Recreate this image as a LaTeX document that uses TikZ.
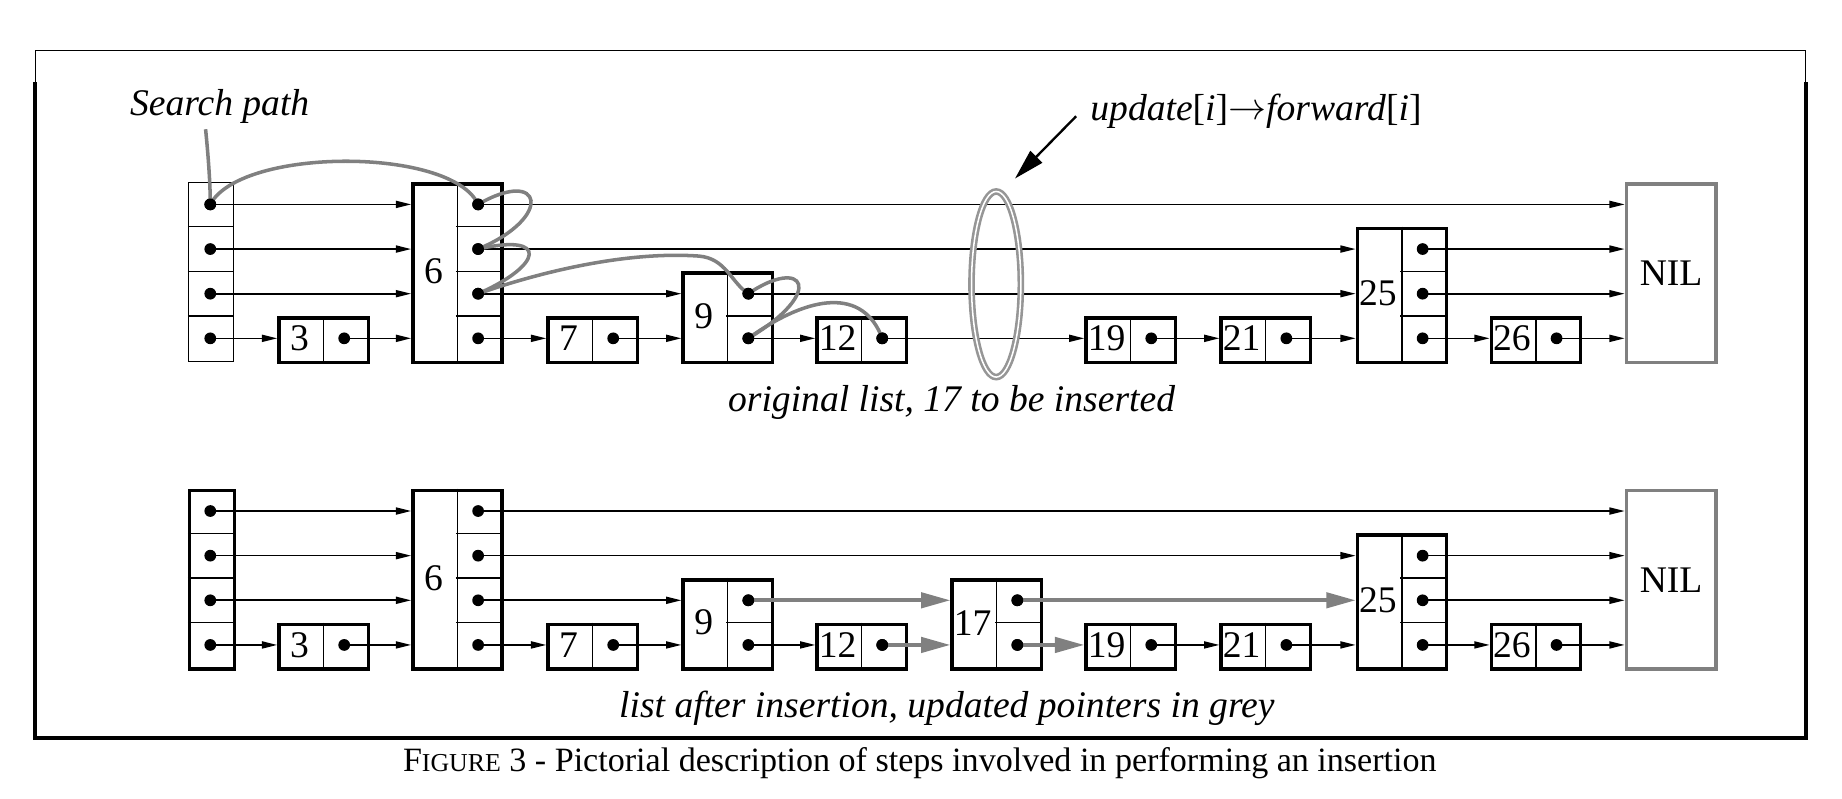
\documentclass[tikz,border=0pt]{standalone}
\usepackage{fontspec}
\setmainfont{Liberation Serif}
\usetikzlibrary{arrows.meta,shapes.geometric}
\definecolor{ptgray}{RGB}{128,128,128}
\definecolor{ringgray}{RGB}{150,150,150}
\tikzset{
  box/.style={draw, line width=3pt, inner sep=0pt, anchor=north west},
  thinbox/.style={draw, line width=1.1pt, inner sep=0pt, anchor=north west},
  nilbox/.style={draw=ptgray, line width=3pt, inner sep=0pt, anchor=north west,
    minimum width=76pt, minimum height=152pt, font=\fontsize{32}{38}\selectfont},
  grid/.style={line width=1.1pt},
  ptr/.style={line width=1.4pt, -{Triangle[length=13pt,width=6pt]}},
  gptr/.style={draw=ptgray, line width=3.2pt, -{Triangle[length=25pt,width=13pt]}},
  annarrow/.style={line width=2pt, -{Triangle[length=26pt,width=14pt]}},
  dot/.style={circle, fill, inner sep=0pt, minimum size=10pt},
  lab/.style={font=\fontsize{32}{38}\selectfont},
  ital/.style={font=\fontsize{32}{38}\selectfont\itshape, inner sep=0pt},
  search/.style={draw=ptgray, line width=3pt},
  ring/.style={ellipse, draw=ringgray, line width=2.2pt, double=white, double distance=1.3pt,
    inner sep=0pt, minimum width=42pt, minimum height=158pt},
}
% #1 name, #2 x, #3 levels, #4 label, #5 bottom y
\newcommand\listnode[5]{%
  \pgfmathsetmacro\ltop{#5-38*#3}%
  \pgfmathsetmacro\lhgt{38*#3}%
  \node[box, minimum width=76pt, minimum height=\lhgt pt] (#1) at (#2,\ltop) {};
  \draw[grid] (#1.north) -- (#1.south);
  \ifnum#3>1
    \foreach \k in {2,...,#3} \draw[grid] (#2+38,#5-38*\k+38) -- (#2+76,#5-38*\k+38);
  \fi
  \node[lab] (#1-key) at (#2+19,#5-19*#3) {#4};
  \foreach \k in {1,...,#3} \node[dot] (#1-\k) at (#2+57,#5+19-38*\k) {};
}
% #1 name, #2 bottom y, #3 style
\newcommand\headcol[3]{%
  \node[#3, minimum width=38pt, minimum height=152pt] (#1) at (160,#2-152) {};
  \foreach \k in {1,2,3} \draw[grid] (160,#2-38*\k) -- (198,#2-38*\k);
  \foreach \k in {1,...,4} \node[dot] (#1-\k) at (179,#2+19-38*\k) {};
}
\begin{document}
\begin{tikzpicture}[x=1pt,y=-1pt]
\useasboundingbox (0,0) rectangle (1568,680);
% frame
\draw[line width=1.2pt] (30,43) -- (1537,43);
\draw[line width=1pt] (30,43) -- (30,70) (1537,43) -- (1537,70);
\draw[line width=3.4pt] (30,70) -- (30,628) -- (1537,628) -- (1537,70);

% ---------- top list ----------
\headcol{th}{307}{thinbox}
\listnode{t3}{236}{1}{3}{307}
\listnode{t6}{350}{4}{6}{307}
\listnode{t7}{465}{1}{7}{307}
\listnode{t9}{580}{2}{9}{307}
\listnode{t12}{694}{1}{12}{307}
\listnode{t19}{923}{1}{19}{307}
\listnode{t21}{1038}{1}{21}{307}
\listnode{t25}{1154}{3}{25}{307}
\listnode{t26}{1268}{1}{26}{307}
\node[nilbox] (tnil) at (1383,155) {NIL};

\foreach \a/\b in {th-1/t3,t3-1/t6,t6-1/t7,t7-1/t9,t9-1/t12,t12-1/t19,t19-1/t21,t21-1/t25,t25-1/t26,t26-1/tnil,
                   th-2/t6,t6-2/t9,t9-2/t25,t25-2/tnil,
                   th-3/t6,t6-3/t25,t25-3/tnil,
                   th-4/t6,t6-4/tnil}
  \draw[ptr] (\a.center) -- (\b.west |- \a.center);

\node[ring] (upd) at (848,242) {};

% search path
\node[ital] (splab) at (187,91) {Search path};
\coordinate (spstart) at (175,110);
\draw[search] (spstart) .. controls (178,140) and (179,160) .. (th-4.center);
\draw[search] (th-4.center) .. controls (205,125) and (385,125) .. (t6-4.center);
\draw[search] (t6-4.center) .. controls (462,142) and (472,185) .. (t6-3.center);
\draw[search] (t6-3.center) .. controls (468,198) and (462,226) .. (t6-2.center);
\draw[search] (t6-2.center) .. controls (470,228) and (540,214) .. (595,218)
   .. controls (618,220) and (622,240) .. (t9-2.center);
\draw[search] (t9-2.center) .. controls (684,218) and (704,248) .. (t9-1.center);
\draw[search] (t9-1.center) .. controls (690,250) and (735,245) .. (t12-1.center);
\foreach \d in {th-4,t6-4,t6-3,t6-2,t9-2,t9-1,t12-1} \fill (\d.center) circle (5pt);

% annotation
\node[ital, anchor=west] (updlab) at (928,95) {update\textup{[}i\textup{]}\raisebox{1pt}{\scalebox{1.3}{$\rightarrow$}}forward\textup{[}i\textup{]}};
\coordinate (annstart) at (916,99);
\coordinate (anntip) at (864,152);
\draw[annarrow] (annstart) -- (anntip);

\node[ital] (cap1) at (810,343) {original list, 17 to be inserted};

% ---------- bottom list ----------
\headcol{bh}{568}{box}
\listnode{b3}{236}{1}{3}{568}
\listnode{b6}{350}{4}{6}{568}
\listnode{b7}{465}{1}{7}{568}
\listnode{b9}{580}{2}{9}{568}
\listnode{b12}{694}{1}{12}{568}
\listnode{b17}{809}{2}{17}{568}
\listnode{b19}{923}{1}{19}{568}
\listnode{b21}{1038}{1}{21}{568}
\listnode{b25}{1154}{3}{25}{568}
\listnode{b26}{1268}{1}{26}{568}
\node[nilbox] (bnil) at (1383,416) {NIL};

\foreach \a/\b in {bh-1/b3,b3-1/b6,b6-1/b7,b7-1/b9,b9-1/b12,b19-1/b21,b21-1/b25,b25-1/b26,b26-1/bnil,
                   bh-2/b6,b6-2/b9,b25-2/bnil,
                   bh-3/b6,b6-3/b25,b25-3/bnil,
                   bh-4/b6,b6-4/bnil}
  \draw[ptr] (\a.center) -- (\b.west |- \a.center);
\foreach \a/\b in {b12-1/b17,b17-1/b19,b9-2/b17,b17-2/b25}
  \draw[gptr] (\a.center) -- (\b.west |- \a.center);
\foreach \d in {b12-1,b17-1,b9-2,b17-2} \fill (\d.center) circle (5pt);

\node[ital] (cap2) at (806,603) {list after insertion, updated pointers in grey};

\node[lab, font=\fontsize{29}{35}\selectfont] (figcap) at (783,650)
  {F{\fontsize{22}{26}\selectfont IGURE} 3 - Pictorial description of steps involved in performing an insertion};
\end{tikzpicture}
\end{document}
